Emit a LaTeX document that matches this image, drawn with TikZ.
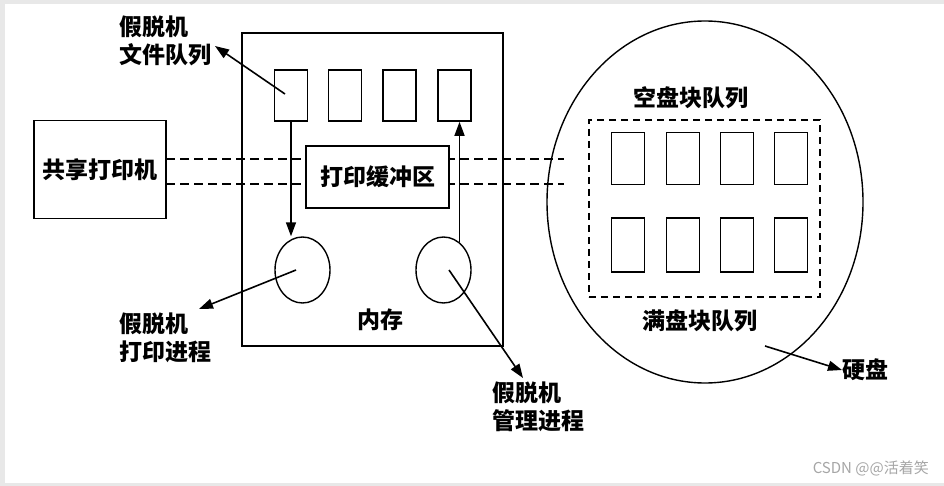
\documentclass[tikz,border=0pt]{standalone}
\usepackage{fontspec}
\usetikzlibrary{arrows.meta,shapes.geometric,calc}
\newfontfamily\cjk{Noto Sans CJK SC}
\begin{document}
\begin{tikzpicture}[x=1pt,y=-1pt,
  box/.style={draw,line width=1.6pt,inner sep=0pt,fill=white},
  qbox/.style={box,minimum width=33pt,minimum height=51pt},
  dbox/.style={box,minimum width=33pt,minimum height=52pt},
  proc/.style={draw,line width=1.4pt,ellipse,inner sep=0pt,minimum width=55pt,minimum height=66pt},
  lbl/.style={font=\cjk\bfseries\fontsize{23}{28}\selectfont,inner sep=0pt,align=left},
  arr/.style={line width=1.6pt,-{Triangle[length=14pt,width=10pt]}},
  dline/.style={line width=1.4pt,dash pattern=on 9pt off 5pt}
]
\useasboundingbox (0,0) rectangle (944,486);
\fill[gray!18] (0,0) rectangle (944,486);
\fill[white] (5,4) rectangle (944,483);

% dashed link lines
\coordinate (d1s) at (166,159); \coordinate (d1e) at (564,159);
\coordinate (d2s) at (166,184); \coordinate (d2e) at (564,184);

% memory
\node[draw,line width=1.6pt,minimum width=261pt,minimum height=313pt,inner sep=0pt] (mem) at (372.5,189.5) {};
\draw[dline] (d1s) -- (d1e);
\draw[dline] (d2s) -- (d2e);

\node[box,minimum width=132pt,minimum height=98pt,lbl] (printer) at (100,169.5) {共享打印机};
\node[box,minimum width=143pt,minimum height=62pt,lbl] (buffer) at (377.5,177) {打印缓冲区};

\node[qbox] (q1) at (291,95.5) {};
\node[qbox] (q2) at (345,95.5) {};
\node[qbox] (q3) at (399.5,95.5) {};
\node[qbox] (q4) at (454.5,95.5) {};

\node[proc] (pp) at (302.5,270) {};
\node[proc] (mp) at (443.5,270) {};

\node[lbl] (memlbl) at (380,320) {内存};

\draw[arr] (q1.south) -- (q1.south |- pp.north);
\draw[arr] (mp.60) -- (mp.60 |- q4.south);

% labels
\node[lbl,anchor=north west] (fq) at (119,16) {假脱机\\文件队列};
\node[lbl,anchor=north west] (pl) at (119,313) {假脱机\\打印进程};
\node[lbl,anchor=north west] (ml) at (492,382) {假脱机\\管理进程};

\coordinate (q1in) at (285,94);
\coordinate (fqend) at (215,46);
\draw[arr] (q1in) -- (fqend);
\coordinate (ppin) at (296,270);
\coordinate (plend) at (199,309);
\draw[arr] (ppin) -- (plend);
\coordinate (mpin) at (449,270);
\coordinate (mlend) at (523,378);
\draw[arr] (mpin) -- (mlend);

% disk
\node[draw,line width=1.4pt,ellipse,inner sep=0pt,minimum width=316pt,minimum height=362pt] (disk) at (705,202) {};
\node[draw,line width=2.2pt,dash pattern=on 7pt off 5pt,minimum width=231pt,minimum height=177pt,inner sep=0pt] (dq) at (704.5,208.5) {};
\node[lbl] (empty) at (691,98) {空盘块队列};
\node[lbl] (full) at (700,321) {满盘块队列};
\foreach \x [count=\i] in {628,683,737,791}{
  \node[dbox] (e\i) at (\x,158.5) {};
  \node[dbox,minimum height=54pt] (f\i) at (\x,245) {};
}
\node[lbl,anchor=west] (hd) at (842,370) {硬盘};
\coordinate (diskin) at (765,346);
\draw[arr] (diskin) -- (hd.west);

\node[font=\cjk\fontsize{15}{18}\selectfont,text=gray!70,anchor=east,inner sep=0pt] (wm) at (929,468) {CSDN @@活着笑};
\end{tikzpicture}
\end{document}
